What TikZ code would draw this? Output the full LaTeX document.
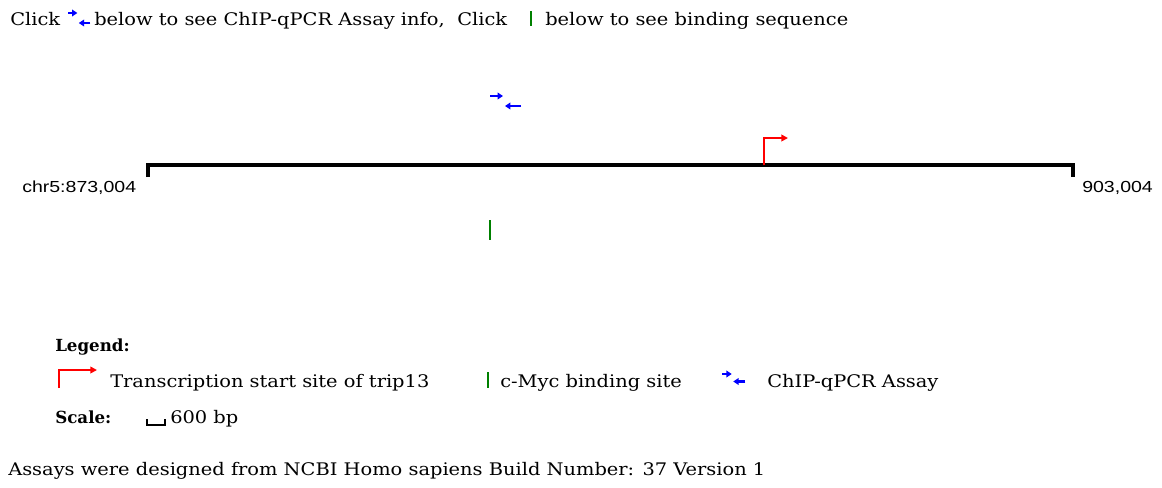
\documentclass[tikz,border=0pt]{standalone}
\usepackage{fontspec}
\setmainfont{DejaVu Serif}[FakeStretch=1.12]
\newfontfamily\hdrfont{DejaVu Serif}
\newfontfamily\chrfont{Liberation Sans}[FakeStretch=1.22]
\usetikzlibrary{arrows.meta,positioning}

\begin{document}
\begin{tikzpicture}[x=0.75pt,y=-0.75pt,
	txt/.style={anchor=base west,inner sep=0pt,font=\fontsize{13}{15}\selectfont},
	hdr/.style={txt,font=\hdrfont\fontsize{12.5}{15}\selectfont\bfseries},
	chr/.style={anchor=base west,inner sep=0pt,font=\chrfont\fontsize{12}{14}\selectfont},
	tss/.style={draw=red,line width=1.6pt,-{Triangle[length=5pt,width=5pt]}},
	myc/.style={draw=green!50!black,line width=2.2pt},
	fwd/.style={draw=blue,line width=1.6pt,-{Triangle[length=4pt,width=5pt]}},
	primer/.pic={
		\draw[fwd] (0,0) -- (13,0);
		\draw[fwd] (31,10) -- (15,10);
	}]
	\useasboundingbox (0,0) rectangle (1162,487);
	% header line
	\node[txt] (click1) at (10,25) {Click};
	\pic[xscale=0.72] at (68,13) {primer};
	\node[txt] (info) at (94,25) {below to see ChIP-qPCR Assay info,};
	\node[txt] (click2) at ([xshift=9pt]info.base east) {Click};
	\draw[myc,line width=1.2pt] (531,11) -- (531,26);
	\node[txt] (seq) at (545,25) {below to see binding sequence};
	% chromosome
	\coordinate (cs) at (148,165);
	\coordinate (ce) at (1073,165);
	\draw[line width=2.4pt] ([yshift=-9]cs) -- (cs) -- (ce) -- ([yshift=-9]ce);
	\node[chr] (start) at (22,192) {chr5:873,004};
	\node[chr] (end) at (1082,192) {903,004};
	% features
	\coordinate (tss) at (764,165);
	\draw[tss] (tss) |- (788,138);
	\pic at (490,96) {primer};
	\draw[myc] (490,220) -- (490,240);
	% legend
	\node[hdr] (legend) at (55,351) {Legend:};
	\draw[tss] (59,388) |- (97,370);
	\node[txt] (ltss) at (110,387) {Transcription start site of trip13};
	\draw[myc,line width=1.2pt] (488,372) -- (488,388);
	\node[txt] (lmyc) at (500,387) {c-Myc binding site};
	\pic[scale=0.75] at (722,374) {primer};
	\node[txt] (lchip) at (767,387) {ChIP-qPCR Assay};
	\node[hdr] (scale) at (55,423) {Scale:};
	\draw[line width=1pt] (147,419) |- (165,425) -- (165,419);
	\node[txt] (bp) at (170,423) {600 bp};
	\node[txt] (build) at (8,475) {Assays were designed from NCBI Homo sapiens Build Number: 37 Version 1};
\end{tikzpicture}
\end{document}
